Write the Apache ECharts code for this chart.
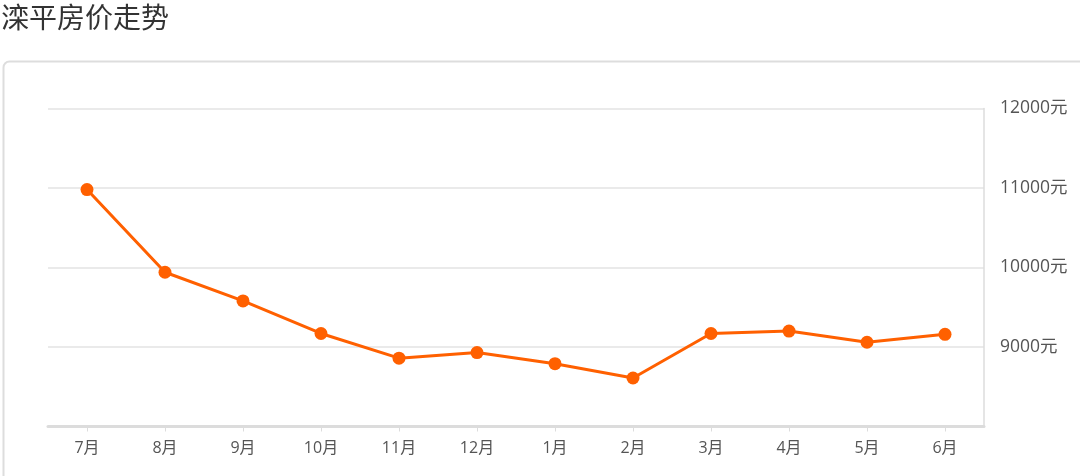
<!DOCTYPE html>
<html>
<head>
<meta charset="utf-8">
<style>
html,body{margin:0;padding:0;background:#fff;}
#c{width:1080px;height:476px;}
</style>
<script src="https://cdn.jsdelivr.net/npm/echarts@6/dist/echarts.min.js"></script>
</head>
<body>
<div id="c"></div>
<script>
const titleText = '滦平房价走势';
const months = ['7月','8月','9月','10月','11月','12月','1月','2月','3月','4月','5月','6月'];
const prices = [10980, 9940, 9580, 9170, 8860, 8930, 8790, 8610, 9170, 9200, 9060, 9160];
const yMin = 8000, yMax = 12000, yStep = 1000;
const unit = '元';

const chart = echarts.init(document.getElementById('c'), null, {renderer: 'canvas'});
const font = '"Open Sans", "Noto Sans CJK SC", sans-serif';
chart.setOption({
  backgroundColor: '#fff',
  animation: false,
  title: {
    text: titleText,
    left: 1, top: 3, padding: 0,
    textStyle: {fontSize: 28, fontWeight: 'normal', color: '#333', fontFamily: '"Noto Sans CJK SC", sans-serif'}
  },
  graphic: [{
    type: 'rect', z: -1, silent: true,
    shape: {x: 3.5, y: 61.5, width: 1120, height: 500, r: 6},
    style: {fill: 'none', stroke: '#dddddd', lineWidth: 2}
  }],
  grid: {left: 48, right: 96, top: 108.5, bottom: 49.5, containLabel: false},
  xAxis: {
    type: 'category',
    data: months,
    boundaryGap: true,
    axisLine: {show: true, lineStyle: {color: '#dcdcdc', width: 3}},
    axisTick: {show: true, alignWithLabel: true, length: 5, lineStyle: {color: '#dcdcdc', width: 1}},
    axisLabel: {color: '#555', fontSize: 16, margin: 14, fontFamily: font},
    splitLine: {show: false}
  },
  yAxis: {
    type: 'value',
    position: 'right',
    min: yMin, max: yMax, interval: yStep,
    axisLine: {show: true, lineStyle: {color: '#dcdcdc', width: 1.5}},
    axisTick: {show: false},
    axisLabel: {
      color: '#555', fontSize: 17.5, margin: 16, fontFamily: font,
      showMinLabel: false,
      formatter: v => v === yMin ? '' : v + unit
    },
    splitLine: {show: true, lineStyle: {color: '#e3e3e3', width: 1.5}}
  },
  series: [{
    type: 'line',
    data: prices,
    symbol: 'circle',
    symbolSize: 13,
    showAllSymbol: true,
    lineStyle: {color: '#ff6000', width: 3},
    itemStyle: {color: '#ff6000'}
  }]
});
</script>
</body>
</html>
